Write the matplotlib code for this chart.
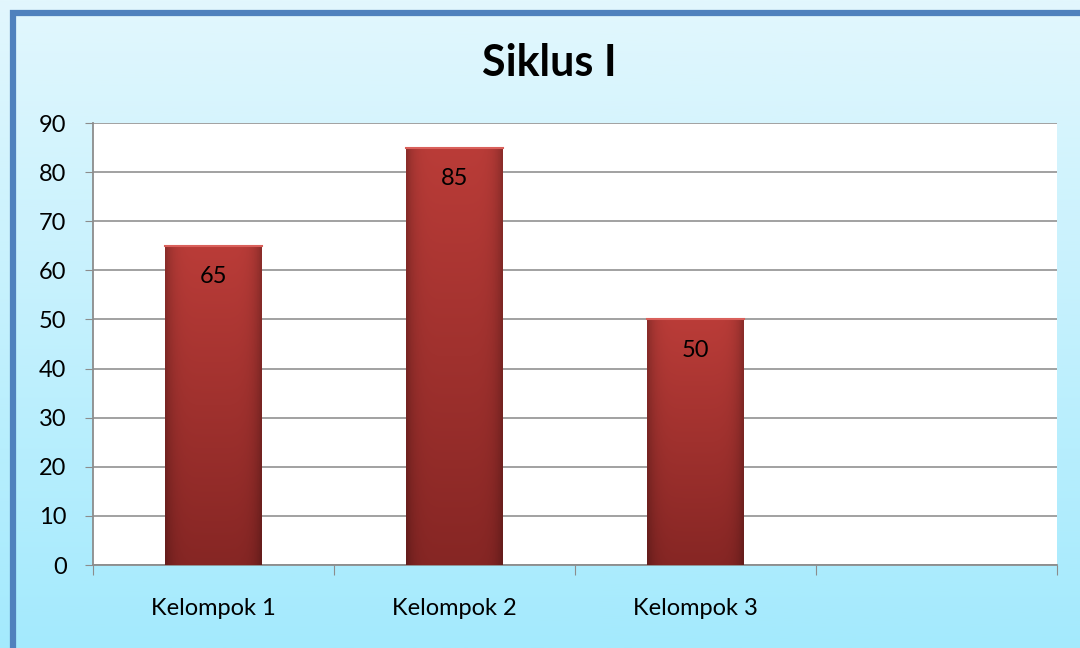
import matplotlib

matplotlib.use("Agg")
import matplotlib.pyplot as plt  # noqa: E402
import numpy as np  # noqa: E402
from matplotlib.patches import Rectangle  # noqa: E402

# Data (fourth slot is empty in the original)
categories = ["Kelompok 1", "Kelompok 2", "Kelompok 3", ""]
values = [65, 85, 50, None]
yticks = [0, 10, 20, 30, 40, 50, 60, 70, 80, 90]
title = "Siklus I"

plt.rcParams["font.family"] = ["Lato", "DejaVu Sans"]

fig = plt.figure(figsize=(10.8, 6.48), dpi=100)

# background gradient over the whole figure
bg = fig.add_axes([0, 0, 1, 1], zorder=-10)
grad = np.linspace(0, 1, 256)[:, None]
top_c = np.array([0xE2, 0xF7, 0xFD]) / 255
bot_c = np.array([0xA4, 0xEA, 0xFD]) / 255
img = top_c[None, None, :] * (1 - grad[..., None]) + bot_c[None, None, :] * grad[..., None]
bg.imshow(img, aspect="auto", extent=[0, 1, 0, 1], origin="upper")
bg.set_xlim(0, 1)
bg.set_ylim(0, 1)
bg.axis("off")
# frame (cut off on the right and bottom like the original)
bg.add_patch(Rectangle((12.5 / 1080, -0.05), 1.2, 1 - 12.5 / 648 + 0.05,
                       fill=False, edgecolor="#4F81BD", lw=4.5, transform=bg.transAxes,
                       clip_on=True))

ax = fig.add_axes([93 / 1080, 1 - 565 / 648, (1057 - 93) / 1080, (565 - 123) / 648])
ax.set_facecolor("white")

x = np.arange(len(categories))
w = 0.4
# horizontal shading across a bar (darker at the edges), vertical gradient top->bottom
hx = np.linspace(-1, 1, 60)
edge = 1 - 0.25 * np.abs(hx) ** 6
vy = np.linspace(0, 1, 200)[:, None]
top_rgb = np.array([0xBA, 0x3C, 0x38]) / 255
bot_rgb = np.array([0x86, 0x26, 0x24]) / 255
bar_img = (top_rgb * (1 - vy[..., None]) + bot_rgb * vy[..., None]) * edge[None, :, None]
bar_img = np.clip(bar_img, 0, 1)

for xi, v in zip(x, values):
    if v is None:
        continue
    ax.bar(xi, v, w, color="#A9332F", zorder=2)
    ax.imshow(bar_img, extent=[xi - w / 2, xi + w / 2, 0, v], aspect="auto",
              origin="upper", zorder=3)
    ax.plot([xi - w / 2, xi + w / 2], [v, v], color="#D9605B", lw=1.5, zorder=4)
    ax.text(xi, v - 6.3, f"{v}", ha="center", va="center", fontsize=17, color="black",
            zorder=5)

ax.set_xlim(-0.5, len(categories) - 0.5)
ax.set_ylim(0, 90)
ax.set_yticks(yticks)
ax.tick_params(axis="y", labelsize=17, length=6, color="#8C8C8C", pad=13)
ax.set_xticks(np.arange(len(categories) + 1) - 0.5)
ax.set_xticklabels([])
ax.set_xticks(x, minor=True)
ax.set_xticklabels(categories, minor=True)
ax.tick_params(axis="x", which="major", length=7, color="#8C8C8C")
ax.tick_params(axis="x", which="minor", length=0, labelsize=17, pad=24)
ax.yaxis.grid(True, color="#9A9A9A", lw=1.3)
ax.set_axisbelow(True)
for s in ["top", "right"]:
    ax.spines[s].set_visible(False)
for s in ["left", "bottom"]:
    ax.spines[s].set_color("#8C8C8C")
    ax.spines[s].set_linewidth(1.3)

fig.text(549 / 1080, 1 - 63 / 648, title, ha="center", va="center",
         fontsize=31, fontweight="bold")

fig.savefig("out.png", dpi=100)
